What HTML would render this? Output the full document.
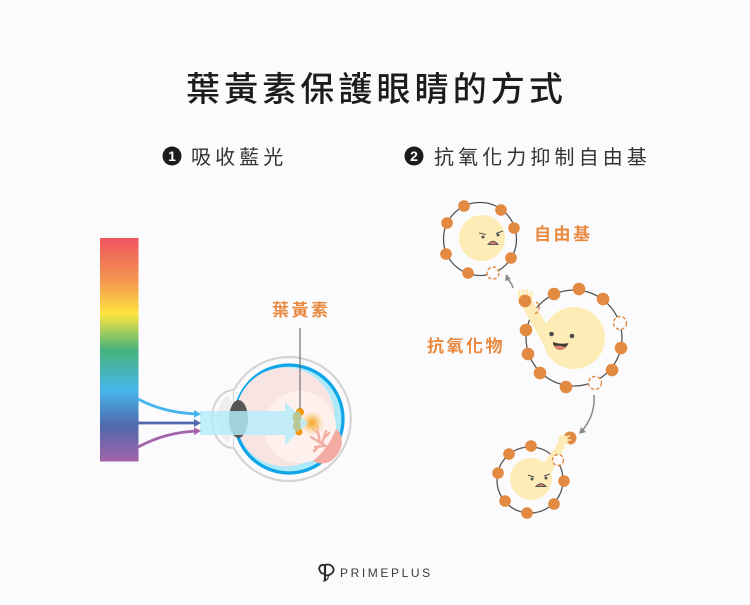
<!DOCTYPE html>
<html><head><meta charset="utf-8"><style>
html,body{margin:0;padding:0;background:#fbfbfd;width:750px;height:605px;overflow:hidden}
svg{display:block}
text{font-family:"Liberation Sans","Noto Sans CJK TC",sans-serif}
</style></head><body>
<svg width="750" height="605" viewBox="0 0 750 605" xmlns="http://www.w3.org/2000/svg">
<defs>
<linearGradient id="rb" x1="0" y1="0" x2="0" y2="1">
<stop offset="0" stop-color="#ee5460"/>
<stop offset="0.2" stop-color="#f49a4e"/>
<stop offset="0.34" stop-color="#fde540"/>
<stop offset="0.5" stop-color="#47b37a"/>
<stop offset="0.68" stop-color="#45b6ec"/>
<stop offset="0.84" stop-color="#5068ad"/>
<stop offset="1" stop-color="#a265a9"/>
</linearGradient>
<radialGradient id="gl"><stop offset="0" stop-color="#f6a21e"/><stop offset=".45" stop-color="#f9c56e" stop-opacity=".8"/><stop offset="1" stop-color="#fde3c8" stop-opacity="0"/></radialGradient>
<marker id="mb" markerWidth="8" markerHeight="8" refX="3" refY="4" orient="auto" markerUnits="userSpaceOnUse"><path d="M0 0L7 4L0 8z" fill="#45b6ec"/></marker>
<marker id="mi" markerWidth="8" markerHeight="8" refX="3" refY="4" orient="auto" markerUnits="userSpaceOnUse"><path d="M0 0L7 4L0 8z" fill="#5068ad"/></marker>
<marker id="mp" markerWidth="8" markerHeight="8" refX="3" refY="4" orient="auto" markerUnits="userSpaceOnUse"><path d="M0 0L7 4L0 8z" fill="#a265a9"/></marker>
</defs>

<text x="186" y="101" font-size="34" font-weight="500" letter-spacing="4.1" fill="#1c1c1e">葉黃素保護眼睛的方式</text>

<circle cx="172" cy="156" r="9.5" fill="#1c1c1e"/>
<text x="172" y="161" font-size="14" font-weight="700" fill="#fff" text-anchor="middle">1</text>
<text x="191" y="164" font-size="20" letter-spacing="4.1" fill="#333">吸收藍光</text>
<circle cx="414" cy="156" r="9.5" fill="#1c1c1e"/>
<text x="414" y="161" font-size="14" font-weight="700" fill="#fff" text-anchor="middle">2</text>
<text x="434" y="164" font-size="20" letter-spacing="4.1" fill="#333">抗氧化力抑制自由基</text>

<rect x="100" y="238" width="38.5" height="223.500" fill="url(#rb)"/>

<!-- eye -->
<path d="M234 390C222 390 212 402 212 419C212 436 222 448 234 448z" fill="#fbfbfd" stroke="#d4d4d4" stroke-width="2"/>
<path d="M228 395C220 401 217 410 217 419C217 428 220 437 228 443L234 430V406z" fill="#eeeeef"/>
<path d="M234 390A62 62 0 1 1 234 448" fill="#fbfbfd" stroke="#d4d4d4" stroke-width="2.200"/>
<circle cx="289" cy="419" r="54" fill="#aee9f9" stroke="#0ea5e9" stroke-width="3.300"/>
<circle cx="285" cy="417" r="49.500" fill="#f8e5e3"/>
<circle cx="300" cy="427" r="36" fill="#fdf0ed"/>
<path d="M336 429Q328 449 313 461Q322 466 331 461Q345 450 341 435Q339 431 336 429z" fill="#f3aca2"/>
<g stroke="#f3aca2" stroke-width="2.300" fill="none" stroke-linecap="round">
<path d="M326 446L311 437M320 443L317 426M318 433L313 429M322 444L326 431M325 437L329 433M324 446L315 447M319 446L314 451"/>
</g>
<circle cx="312" cy="423" r="13" fill="url(#gl)"/>
<ellipse cx="238.500" cy="419" rx="9.500" ry="19" fill="#555658"/>
<path d="M200 411H285V402L308 423L285 445V435H200z" fill="#b5ebfa" fill-opacity=".82"/>
<circle cx="300" cy="412" r="4" fill="#f39a0c"/>
<circle cx="299" cy="432" r="3.500" fill="#f39a0c"/>
<ellipse cx="297" cy="417" rx="4.500" ry="5.500" fill="#b9c796"/>
<ellipse cx="297" cy="426" rx="4" ry="5.500" fill="#b9c796"/>
<line x1="300" y1="328" x2="300" y2="409" stroke="#666" stroke-width="1.100"/>
<text x="272" y="316" font-size="17" font-weight="700" letter-spacing="2.500" fill="#e8893f">葉黃素</text>

<path d="M138 399C157 409 175 413 197 414" fill="none" stroke="#45b6ec" stroke-width="2.800" marker-end="url(#mb)"/>
<path d="M138 423H197" fill="none" stroke="#5068ad" stroke-width="2.800" marker-end="url(#mi)"/>
<path d="M138 447C157 437 175 432 197 431" fill="none" stroke="#a265a9" stroke-width="2.800" marker-end="url(#mp)"/>

<!-- free radical 1 -->
<circle cx="480" cy="239" r="36.500" fill="none" stroke="#555" stroke-width="1.300"/>
<circle cx="482" cy="238" r="23" fill="#feecb6"/>
<g fill="#e28a41">
<circle cx="464" cy="206" r="5.800"/><circle cx="501" cy="210" r="5.800"/><circle cx="514" cy="228" r="5.800"/><circle cx="511" cy="258" r="5.800"/><circle cx="468" cy="273" r="5.800"/><circle cx="446" cy="254" r="5.800"/><circle cx="447" cy="223" r="5.800"/>
</g>
<circle cx="493" cy="273" r="6" fill="#fbfbfd" stroke="#e28a41" stroke-width="1.400" stroke-dasharray="3.500 2"/>
<g fill="#555"><circle cx="483" cy="237" r="1.500"/><circle cx="498" cy="235" r="1.500"/></g>
<path d="M479 233L486 234.500M503 231L496 233.500" stroke="#555" stroke-width="1.100" fill="none"/>
<path d="M488 244.500Q493 238 498 244.500z" fill="#d77f6c" stroke="#555" stroke-width="1"/>
<text x="534" y="240" font-size="17" font-weight="700" letter-spacing="2.500" fill="#e8893f">自由基</text>

<path d="M513 288C512 284 510 281 507 279" fill="none" stroke="#8a8a8a" stroke-width="1.500"/>
<path d="M506 274L505 281L511 279z" fill="#8a8a8a"/>

<!-- antioxidant -->
<circle cx="574" cy="338" r="48" fill="none" stroke="#555" stroke-width="1.300"/>
<circle cx="574" cy="338" r="31" fill="#feecb6"/>
<path d="M520 303L530 297L550 330L546 349z" fill="#feecb6"/>
<g fill="#feecb6"><circle cx="525" cy="300" r="7"/><rect x="518" y="290" width="2.500" height="8"/><rect x="522" y="289" width="2.500" height="8"/><rect x="526" y="289" width="2.500" height="8"/><rect x="530" y="291" width="2.500" height="8"/></g>
<g fill="#e28a41">
<circle cx="554" cy="294" r="6.300"/><circle cx="579" cy="289" r="6.300"/><circle cx="603" cy="299" r="6.300"/><circle cx="621" cy="348" r="6.300"/><circle cx="612" cy="370" r="6.300"/><circle cx="566" cy="387" r="6.300"/><circle cx="540" cy="373" r="6.300"/><circle cx="528" cy="354" r="6.300"/><circle cx="526" cy="330" r="6.300"/><circle cx="525" cy="301" r="6.300"/>
</g>
<g fill="#fbfbfd" stroke="#e28a41" stroke-width="1.400" stroke-dasharray="3.500 2">
<circle cx="620" cy="323" r="6.500"/><circle cx="595" cy="383" r="6.500"/>
</g>
<path d="M536 302A6.500 6.500 0 0 1 534 314" fill="none" stroke="#e28a41" stroke-width="1.400" stroke-dasharray="3.500 2"/>
<g fill="#4c4c4c"><circle cx="551.500" cy="334" r="2.300"/><circle cx="572" cy="336" r="2.300"/></g>
<path d="M553 342Q561 345 568.500 343Q566 350 560 350Q554 350 553 342z" fill="#d9806a"/>
<path d="M553 342Q561 345 568.500 343Q567 346.500 565 347Q559 345 554 346Q553 344 553 342z" fill="#3e3a38"/>
<text x="427" y="352" font-size="17" font-weight="700" letter-spacing="2.500" fill="#e8893f">抗氧化物</text>

<path d="M594 395C595 410 590 422 581 432" fill="none" stroke="#8a8a8a" stroke-width="1.500"/>
<path d="M579 434L581 427L586 432z" fill="#8a8a8a"/>

<!-- free radical 2 -->
<circle cx="530" cy="480" r="33" fill="none" stroke="#555" stroke-width="1.300"/>
<circle cx="531" cy="479" r="21" fill="#feecb6"/>
<g fill="#e28a41">
<circle cx="531" cy="446" r="5.800"/><circle cx="509" cy="454" r="5.800"/><circle cx="498" cy="473" r="5.800"/><circle cx="505" cy="501" r="5.800"/><circle cx="527" cy="513" r="5.800"/><circle cx="554" cy="504" r="5.800"/><circle cx="564" cy="481" r="5.800"/><circle cx="570" cy="438" r="6.500"/>
</g>
<path d="M541 467L559 442L565 447L549 477z" fill="#feecb6"/>
<circle cx="563" cy="440" r="5" fill="#feecb6"/>
<path d="M565 437L570 436M566 440L571 440M565 443L569 444" stroke="#feecb6" stroke-width="1.600"/>
<circle cx="558" cy="460" r="5.500" fill="#fbfbfd" stroke="#e28a41" stroke-width="1.400" stroke-dasharray="3.500 2"/>
<g fill="#555"><circle cx="532" cy="479" r="1.500"/><circle cx="546" cy="478" r="1.500"/></g>
<path d="M528 475L534 477M550 474L544 476" stroke="#555" stroke-width="1.100" fill="none"/>
<path d="M536 486.500Q541 481 546 486.500z" fill="#d77f6c" stroke="#555" stroke-width="1"/>

<!-- logo -->
<g fill="none" stroke="#2a2a2a">
<path d="M325 581V565" stroke-width="2.200"/>
<path d="M325 565C320 564 318 568 320 571C321 574 324 574 325 573" stroke-width="1.800"/>
<path d="M325 565C331 563 335 568 333 572C331 575 327 576 325 575" stroke-width="1.800"/>
<path d="M323 581C327 581 329 578 328 575" stroke-width="1.100"/>
</g>
<text x="340" y="577" font-size="12" letter-spacing="2.600" fill="#3a3a3a">PRIMEPLUS</text>
</svg>
</body></html>
